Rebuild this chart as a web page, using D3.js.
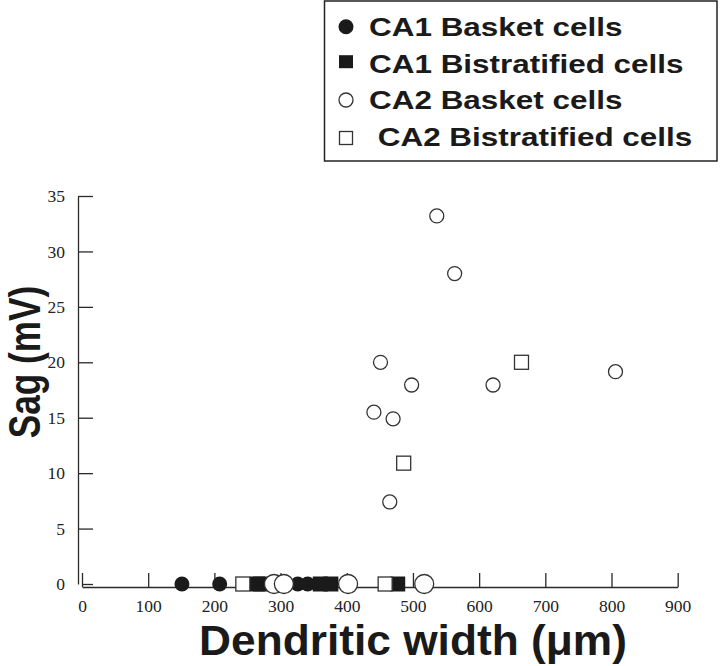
<!DOCTYPE html>
<html>
<head>
<meta charset="utf-8">
<script src="https://cdn.jsdelivr.net/npm/d3@7"></script>
<style>
  html, body { margin: 0; padding: 0; background: #fff; }
  svg { display: block; }
</style>
</head>
<body>
<svg id="chart" width="720" height="666"></svg>
<script>
// ---- data (dendritic width in µm, sag in mV) ----
const ca1BasketX = [151, 208, 326, 341];
const ca1BasketY = [0, 0, 0, 0];

const ca1BistratX = [265, 270, 360, 376, 477];
const ca1BistratY = [0, 0, 0, 0, 0];

const ca2BasketX = [290, 305, 402, 517, 536, 563, 451, 498, 621, 806, 441, 470, 465];
const ca2BasketY = [0, 0, 0, 0, 33.2, 28.0, 20.0, 17.95, 17.95, 19.15, 15.5, 14.9, 7.4];

const ca2BistratX = [243, 458, 664, 486];
const ca2BistratY = [0, 0, 20.0, 10.9];

const xTicks = [0, 100, 200, 300, 400, 500, 600, 700, 800, 900];
const yTicks = [0, 5, 10, 15, 20, 25, 30, 35];

const legendLabels = ["CA1 Basket cells", "CA1 Bistratified cells", "CA2 Basket cells", "\u00a0CA2 Bistratified cells"];

const xTitle = "Dendritic width (\u03bcm)";
const yTitle = "Sag (mV)";

// ---- drawing ----
const svg = d3.select("#chart");
const x = d3.scaleLinear().domain([0, 900]).range([82, 677.7]);
const y = d3.scaleLinear().domain([0, 35]).range([584, 196]);

const ink = "#1a1a1a";
const lineCol = "#2a2a2a";

// x axis
const gx = svg.append("g")
  .attr("transform", `translate(0,${y(0) + 3})`)
  .call(d3.axisBottom(x).tickValues(xTicks).tickFormat(d3.format("d"))
    .tickSize(-14).tickSizeOuter(0).tickPadding(13));
// y axis
const gy = svg.append("g")
  .attr("transform", `translate(78,0)`)
  .call(d3.axisLeft(y).tickValues(yTicks).tickFormat(d3.format("d"))
    .tickSize(-15).tickSizeOuter(0).tickPadding(13));

[gx, gy].forEach(g => {
  g.select(".domain").attr("stroke", lineCol).attr("stroke-width", 1.3);
  g.selectAll(".tick line").attr("stroke", lineCol).attr("stroke-width", 1.3);
  g.selectAll(".tick text")
    .attr("font-family", "'Liberation Serif', 'Times New Roman', serif")
    .attr("font-size", 17.5).attr("fill", "#222");
});
// y-axis zero tick starts right of the axis line
gy.selectAll(".tick").filter(d => d === 0).select("line").attr("x1", 4);

function pts(xs, ys) { return xs.map((v, i) => ({ x: v, y: ys[i] })); }

const plot = svg.append("g");

// CA1 basket: filled circles
plot.selectAll("circle.ca1b").data(pts(ca1BasketX, ca1BasketY)).join("circle")
  .attr("class", "ca1b")
  .attr("cx", d => x(d.x)).attr("cy", d => y(d.y)).attr("r", 7.5)
  .attr("fill", ink);

// CA1 bistratified: filled squares
const sq = 14;
plot.selectAll("rect.ca1s").data(pts(ca1BistratX, ca1BistratY)).join("rect")
  .attr("class", "ca1s")
  .attr("x", d => x(d.x) - 7.5).attr("y", d => y(d.y) - 7.5)
  .attr("width", 15).attr("height", 15)
  .attr("fill", ink);

// CA2 basket: open circles
plot.selectAll("circle.ca2b").data(pts(ca2BasketX, ca2BasketY)).join("circle")
  .attr("class", "ca2b")
  .attr("cx", d => x(d.x)).attr("cy", d => y(d.y))
  .attr("r", d => d.y === 0 ? 9.5 : 7)
  .attr("fill", "#fff").attr("stroke", "#333").attr("stroke-width", 1.3);

// CA2 bistratified: open squares
plot.selectAll("rect.ca2s").data(pts(ca2BistratX, ca2BistratY)).join("rect")
  .attr("class", "ca2s")
  .attr("x", d => x(d.x) - sq / 2).attr("y", d => y(d.y) - sq / 2)
  .attr("width", sq).attr("height", sq)
  .attr("fill", "#fff").attr("stroke", "#333").attr("stroke-width", 1.3);

// axis titles
svg.append("text")
  .attr("transform", "translate(413,655) scale(1.03,1)")
  .attr("text-anchor", "middle")
  .attr("font-family", "'Liberation Sans', Arial, sans-serif")
  .attr("font-weight", "bold").attr("font-size", 43).attr("fill", ink)
  .text(xTitle);

svg.append("text")
  .attr("transform", "translate(40,362) rotate(-90) scale(0.8,1)")
  .attr("text-anchor", "middle")
  .attr("font-family", "'Liberation Sans', Arial, sans-serif")
  .attr("font-weight", "bold").attr("font-size", 44).attr("fill", ink)
  .text(yTitle);

// legend
const lg = svg.append("g");
lg.append("rect").attr("x", 324.5).attr("y", 1).attr("width", 392.5).attr("height", 160)
  .attr("fill", "#fff").attr("stroke", "#222").attr("stroke-width", 1.5);

const rowBase = [36, 73, 109, 146];
const markerY = [26.7, 61.7, 100, 138];
const mx = 346;

lg.append("circle").attr("cx", mx).attr("cy", markerY[0]).attr("r", 7.5).attr("fill", ink);
lg.append("rect").attr("x", mx - 7).attr("y", markerY[1] - 6.5).attr("width", 14).attr("height", 13).attr("fill", ink);
lg.append("circle").attr("cx", mx).attr("cy", markerY[2]).attr("r", 7)
  .attr("fill", "#fff").attr("stroke", "#333").attr("stroke-width", 1.3);
lg.append("rect").attr("x", mx - 6.5).attr("y", markerY[3] - 6.5).attr("width", 13).attr("height", 13)
  .attr("fill", "#fff").attr("stroke", "#333").attr("stroke-width", 1.3);

lg.selectAll("text.leg").data(legendLabels).join("text")
  .attr("class", "leg")
  .attr("transform", (d, i) => `translate(369,${rowBase[i]}) scale(1.21,1)`)
  .attr("font-family", "'Liberation Sans', Arial, sans-serif")
  .attr("font-weight", "bold").attr("font-size", 26).attr("fill", ink)
  .text(d => d);
</script>
</body>
</html>
